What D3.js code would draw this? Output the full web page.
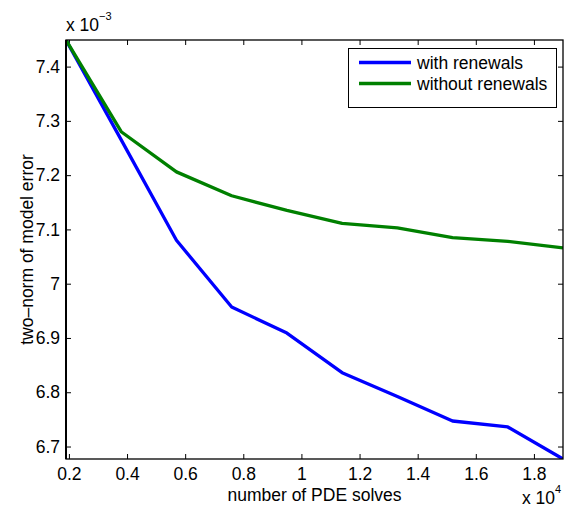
<!DOCTYPE html>
<html>
<head>
<meta charset="utf-8">
<script src="https://cdn.jsdelivr.net/npm/d3@7"></script>
<style>
  html, body { margin: 0; padding: 0; background: #fff; }
  svg { display: block; }
  text { font-family: "Liberation Sans", Arial, Helvetica, sans-serif; fill: #000; }
</style>
</head>
<body>
<svg id="chart" width="564" height="509"></svg>
<script>
// number of PDE solves (x axis)
var solves = [1900, 3800, 5700, 7600, 9500, 11400, 13300, 15200, 17100, 19000];
// two-norm of model error, in units of 1e-3
var withRenewals = [7.449, 7.265, 7.080, 6.957, 6.909, 6.836, 6.792, 6.747, 6.736, 6.677];
var withoutRenewals = [7.449, 7.280, 7.206, 7.162, 7.135, 7.111, 7.103, 7.085, 7.078, 7.066];

var seriesNames = ["with renewals", "without renewals"];
var seriesColors = ["#0000ff", "#008000"];

var xTicks = [2000, 4000, 6000, 8000, 10000, 12000, 14000, 16000, 18000];
var yTicks = [6.7, 6.8, 6.9, 7.0, 7.1, 7.2, 7.3, 7.4];

var WIDTH = 564, HEIGHT = 509;
var MARGINS = { left: 66, top: 40, right: 1, bottom: 50 };
var FONT = "17.5px";

var vis = d3.select("#chart");

var xRange = d3.scaleLinear()
    .domain([d3.min(solves), d3.max(solves)])
    .range([MARGINS.left, WIDTH - MARGINS.right]);

var allY = withRenewals.concat(withoutRenewals);
var yRange = d3.scaleLinear()
    .domain([d3.min(allY), d3.max(allY)])
    .range([HEIGHT - MARGINS.bottom, MARGINS.top]);

// clip for lines
vis.append("defs").append("clipPath")
    .attr("id", "clip")
    .append("rect")
    .attr("x", MARGINS.left)
    .attr("y", MARGINS.top)
    .attr("width", WIDTH - MARGINS.right - MARGINS.left)
    .attr("height", HEIGHT - MARGINS.bottom - MARGINS.top);

/**
 * axes, ticks pointing inward on all four sides
 */
var xAxis = d3.axisBottom(xRange).tickValues(xTicks)
    .tickSizeInner(-5).tickSizeOuter(0).tickPadding(9)
    .tickFormat(function (d) { return d3.format("~g")(d / 1e4); });
var xAxisTop = d3.axisTop(xRange).tickValues(xTicks)
    .tickSizeInner(-5).tickSizeOuter(0).tickFormat("");
var yAxis = d3.axisLeft(yRange).tickValues(yTicks)
    .tickSizeInner(-5).tickSizeOuter(0).tickPadding(6)
    .tickFormat(d3.format("~g"));
var yAxisRight = d3.axisRight(yRange).tickValues(yTicks)
    .tickSizeInner(-5).tickSizeOuter(0).tickFormat("");

vis.append("g").attr("class", "xaxis")
    .attr("transform", "translate(0," + (HEIGHT - MARGINS.bottom) + ")")
    .call(xAxis);
vis.append("g").attr("class", "xaxis-top")
    .attr("transform", "translate(0," + MARGINS.top + ")")
    .call(xAxisTop);
vis.append("g").attr("class", "yaxis")
    .attr("transform", "translate(" + MARGINS.left + ",0)")
    .call(yAxis);
vis.append("g").attr("class", "yaxis-right")
    .attr("transform", "translate(" + (WIDTH - MARGINS.right) + ",0)")
    .call(yAxisRight);

vis.selectAll(".domain").remove();
vis.selectAll(".tick line").attr("stroke", "#000").attr("stroke-width", 1);
vis.selectAll(".tick text")
    .style("font-size", FONT)
    .style("font-family", "'Liberation Sans', Arial, Helvetica, sans-serif")
    .attr("fill", "#000");

/**
 * lines
 */
var lineFunc = d3.line()
    .x(function (d) { return xRange(d[0]); })
    .y(function (d) { return yRange(d[1]); });

var series = [withRenewals, withoutRenewals];
series.forEach(function (vals, i) {
    vis.append("path")
        .datum(d3.zip(solves, vals))
        .attr("clip-path", "url(#clip)")
        .attr("fill", "none")
        .attr("stroke", seriesColors[i])
        .attr("stroke-width", 3.3)
        .attr("stroke-linejoin", "round")
        .attr("d", lineFunc);
});

// frame (left edge drawn a bit heavier, as in the original)
vis.append("rect")
    .attr("x", MARGINS.left)
    .attr("y", MARGINS.top)
    .attr("width", WIDTH - MARGINS.right - MARGINS.left)
    .attr("height", HEIGHT - MARGINS.bottom - MARGINS.top)
    .attr("fill", "none")
    .attr("stroke", "#000")
    .attr("stroke-width", 1.3);
vis.append("line")
    .attr("x1", MARGINS.left).attr("x2", MARGINS.left)
    .attr("y1", MARGINS.top).attr("y2", HEIGHT - MARGINS.bottom)
    .attr("stroke", "#000")
    .attr("stroke-width", 2);

/**
 * labels
 */
vis.append("text")
    .attr("class", "xlabel")
    .attr("text-anchor", "middle")
    .attr("x", (MARGINS.left + WIDTH - MARGINS.right) / 2)
    .attr("y", 501)
    .style("font-size", FONT)
    .text("number of PDE solves");

vis.append("text")
    .attr("class", "ylabel")
    .attr("text-anchor", "middle")
    .attr("transform", "translate(33," + ((MARGINS.top + HEIGHT - MARGINS.bottom) / 2) + ") rotate(-90)")
    .style("font-size", FONT)
    .text("two\u2013norm of model error");

// exponent markers
var ex1 = vis.append("text").attr("x", 66).attr("y", 31).style("font-size", FONT);
ex1.append("tspan").text("x 10");
ex1.append("tspan").attr("dy", -11).style("font-size", "11px").text("\u22123");

var ex2 = vis.append("text").attr("x", 522).attr("y", 504).style("font-size", FONT);
ex2.append("tspan").text("x 10");
ex2.append("tspan").attr("dy", -11).style("font-size", "11px").text("4");

/**
 * legend
 */
var legend = vis.append("g").attr("class", "legend");
legend.append("rect")
    .attr("x", 348.5).attr("y", 48.5)
    .attr("width", 208).attr("height", 59)
    .attr("fill", "#fff")
    .attr("stroke", "#000")
    .attr("stroke-width", 1);

seriesNames.forEach(function (name, i) {
    var yy = 62.5 + i * 21;
    legend.append("line")
        .attr("x1", 359).attr("x2", 411)
        .attr("y1", yy).attr("y2", yy)
        .attr("stroke", seriesColors[i])
        .attr("stroke-width", 3.3);
    legend.append("text")
        .attr("x", 417)
        .attr("y", yy)
        .attr("dy", "0.35em")
        .style("font-size", FONT)
        .text(name);
});
</script>
</body>
</html>
